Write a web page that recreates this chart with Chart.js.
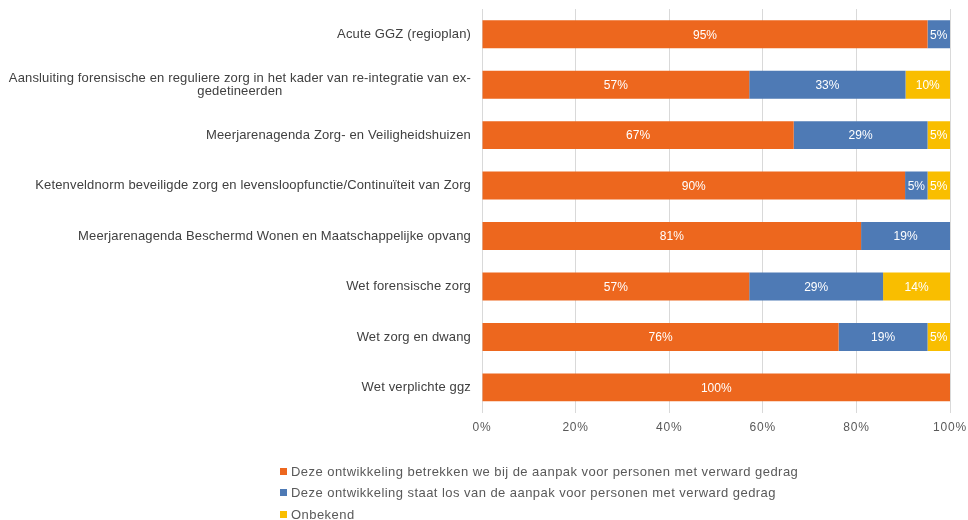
<!DOCTYPE html>
<html>
<head>
<meta charset="utf-8">
<script src="https://cdn.jsdelivr.net/npm/chart.js@4/dist/chart.umd.min.js"></script>
<style>
  html, body { margin: 0; padding: 0; background: #fff; }
  #wrap { position: relative; width: 968px; height: 520px; }
  #legend { position: absolute; left: 280px; top: 460.5px; font-family: "Liberation Sans", Arial, sans-serif; font-size: 13px; letter-spacing: 0.45px; color: #595959; }
  #legend div { height: 21.5px; line-height: 21.5px; white-space: nowrap; }
  #legend span.sw { display: inline-block; width: 7px; height: 7px; margin-right: 4px; vertical-align: 1px; }
</style>
</head>
<body>
<div id="wrap">
  <canvas id="c" width="968" height="520"></canvas>
  <div id="legend"></div>
</div>
<script>
const categories = [
  ["Acute GGZ (regioplan)"],
  ["Aansluiting forensische en reguliere zorg in het kader van re-integratie van ex-", "gedetineerden"],
  ["Meerjarenagenda Zorg- en Veiligheidshuizen"],
  ["Ketenveldnorm beveiligde zorg en levensloopfunctie/Continuïteit van Zorg"],
  ["Meerjarenagenda Beschermd Wonen en Maatschappelijke opvang"],
  ["Wet forensische zorg"],
  ["Wet zorg en dwang"],
  ["Wet verplichte ggz"]
];
const seriesNames = [
  "Deze ontwikkeling betrekken we bij de aanpak voor personen met verward gedrag",
  "Deze ontwikkeling staat los van de aanpak voor personen met verward gedrag",
  "Onbekend"
];
const betrokken = [95.2, 57.1, 66.6, 90.4, 81.0, 57.1, 76.2, 100];
const losVan    = [4.8, 33.4, 28.6, 4.8, 19.0, 28.6, 19.0, 0];
const onbekend  = [0, 9.5, 4.8, 4.8, 0, 14.3, 4.8, 0];
const xTicks = [0, 20, 40, 60, 80, 100];
const colors = ["#ED671E", "#4E7AB5", "#F9BE00"];

const FONT = "'Liberation Sans', Arial, sans-serif";

const spacingPlugin = {
  id: 'tickSpacing',
  beforeDraw(chart) { chart.ctx.letterSpacing = '0.8px'; },
  beforeDatasetsDraw(chart) { chart.ctx.letterSpacing = '0px'; }
};

const yLabelPlugin = {
  id: 'yLabels',
  afterDraw(chart) {
    const ctx = chart.ctx;
    const y = chart.scales.y;
    const right = chart.chartArea.left - 11;
    ctx.save();
    ctx.font = "13px " + FONT;
    ctx.letterSpacing = '0.15px';
    ctx.fillStyle = "#404040";
    ctx.textAlign = "center";
    ctx.textBaseline = "middle";
    categories.forEach((lines, i) => {
      const cy = y.getPixelForValue(i);
      const w = Math.max(...lines.map(l => ctx.measureText(l).width));
      const cx = right - w / 2;
      const lh = 13.5;
      const start = cy - (lines.length - 1) * lh / 2;
      lines.forEach((l, k) => ctx.fillText(l, cx, start + k * lh));
    });
    ctx.restore();
  }
};

const valueLabelPlugin = {
  id: 'valueLabels',
  afterDatasetsDraw(chart) {
    const ctx = chart.ctx;
    ctx.save();
    ctx.letterSpacing = '0px';
    ctx.font = "12px " + FONT;
    ctx.fillStyle = "#ffffff";
    ctx.textAlign = "center";
    ctx.textBaseline = "middle";
    chart.data.datasets.forEach((ds, di) => {
      const meta = chart.getDatasetMeta(di);
      meta.data.forEach((bar, i) => {
        const v = ds.data[i];
        if (!v) return;
        const x0 = Math.min(bar.x, bar.base), x1 = Math.max(bar.x, bar.base);
        ctx.fillText(Math.round(v) + "%", (x0 + x1) / 2, bar.y + 1);
      });
    });
    ctx.restore();
  }
};

new Chart(document.getElementById('c'), {
  type: 'bar',
  data: {
    labels: categories.map(c => c.join(' ')),
    datasets: [
      { label: seriesNames[0], data: betrokken, backgroundColor: colors[0] },
      { label: seriesNames[1], data: losVan, backgroundColor: colors[1] },
      { label: seriesNames[2], data: onbekend, backgroundColor: colors[2] }
    ]
  },
  options: {
    indexAxis: 'y',
    responsive: false,
    animation: false,
    devicePixelRatio: 1,
    layout: { padding: { left: 482, right: 18, top: 9, bottom: 77 } },
    datasets: { bar: { categoryPercentage: 1, barPercentage: 0.555, borderWidth: 0 } },
    plugins: { legend: { display: false }, tooltip: { enabled: false } },
    scales: {
      x: {
        stacked: true, min: 0, max: 100,
        afterBuildTicks(scale) { scale.ticks = xTicks.map(v => ({ value: v })); },
        afterFit(scale) { scale.paddingRight = 0; scale.paddingLeft = 0; },
        ticks: { callback: v => v + "%", color: "#595959", font: { family: FONT, size: 12 }, padding: 8 },
        grid: { color: "#D9D9D9", drawTicks: false, lineWidth: 1 },
        border: { display: false }
      },
      y: {
        stacked: true, display: false
      }
    }
  },
  plugins: [spacingPlugin, yLabelPlugin, valueLabelPlugin]
});

const lg = document.getElementById('legend');
seriesNames.forEach((n, i) => {
  const d = document.createElement('div');
  const s = document.createElement('span');
  s.className = 'sw'; s.style.background = colors[i];
  d.appendChild(s);
  d.appendChild(document.createTextNode(n));
  lg.appendChild(d);
});
</script>
</body>
</html>
